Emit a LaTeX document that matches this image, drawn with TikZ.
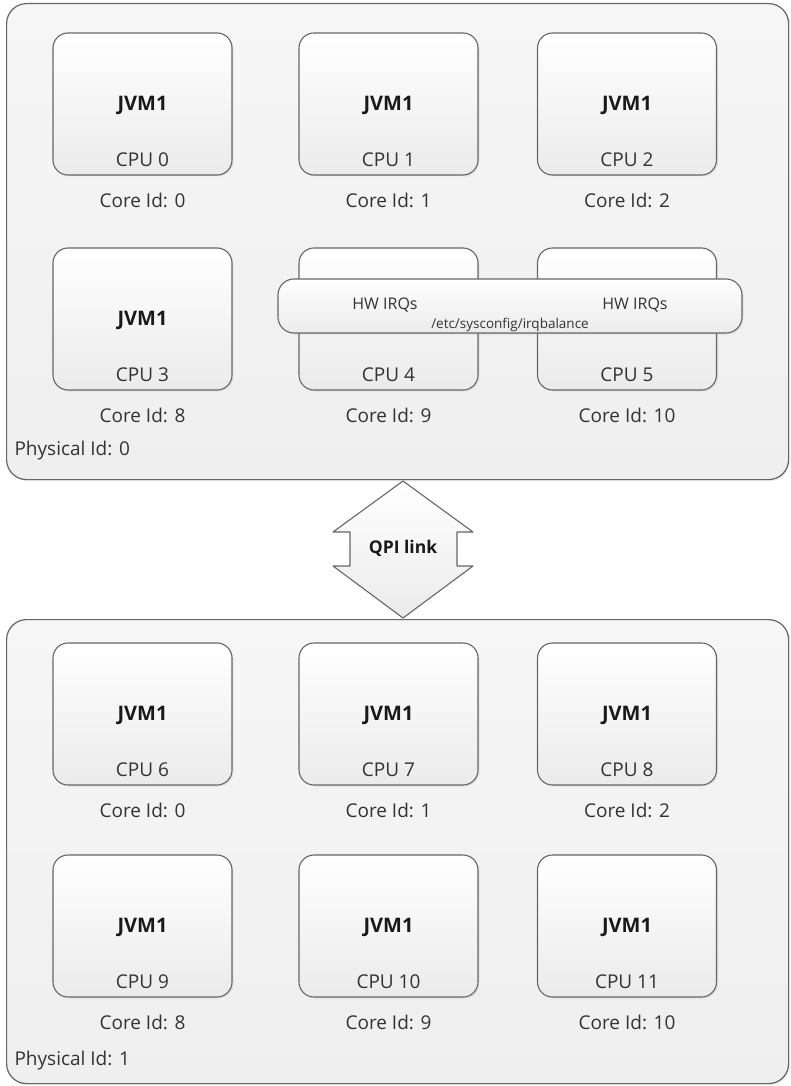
\documentclass[tikz,border=0pt]{standalone}
\usepackage{fontspec}
\setmainfont{Open Sans}
\usetikzlibrary{shadows}
\definecolor{edge}{HTML}{666666}
\definecolor{panel}{HTML}{EFEFEF}
\definecolor{paneltop}{HTML}{F6F6F6}
\definecolor{boxlow}{HTML}{EBEBEB}
\definecolor{ink}{HTML}{333333}
\tikzset{
  every picture/.style={line join=round, line cap=round},
  hostbox/.style={draw=edge, line width=1.2pt, rounded corners=20pt, anchor=north west,
    top color=paneltop, bottom color=panel, minimum width=782pt,
    drop shadow={opacity=0.15, shadow xshift=1.5pt, shadow yshift=-1.5pt}},
  cpubox/.style={draw=edge, line width=1.1pt, rounded corners=15pt,
    minimum width=179pt, minimum height=142pt, top color=white, bottom color=boxlow,
    drop shadow={opacity=0.15, shadow xshift=1.5pt, shadow yshift=-1.5pt}},
  irqbar/.style={draw=edge, line width=1.1pt, rounded corners=16pt,
    minimum width=464pt, minimum height=54pt, top color=white, bottom color=boxlow,
    drop shadow={opacity=0.15, shadow xshift=1.5pt, shadow yshift=-1.5pt}},
  jvm/.style={font=\fontsize{20}{23}\selectfont\bfseries, text=black!90},
  txt/.style={font=\fontsize{19}{22}\selectfont, text=ink},
  small/.style={font=\fontsize{16}{18}\selectfont, text=ink},
  tiny/.style={font=\fontsize{13.5}{15}\selectfont, text=ink},
}

\begin{document}
\begin{tikzpicture}[x=1pt,y=-1pt]
\useasboundingbox (0,0) rectangle (790,1086);
\fill[white] (0,0) rectangle (790,1086);
% physical packages
\node[hostbox, minimum height=476pt] (host0) at (6,3) {};
\node[hostbox, minimum height=464pt] (host1) at (6,619) {};
% socket 0
\node[cpubox] (cpu0) at (142.5,104) {};
\node[cpubox] (cpu1) at (388.5,104) {};
\node[cpubox] (cpu2) at (627,104) {};
\node[cpubox] (cpu3) at (142.5,319) {};
\node[cpubox] (cpu4) at (388.5,319) {};
\node[cpubox] (cpu5) at (627,319) {};
\node[jvm] (jvm0) at (142.5,105) {JVM1};
\node[jvm] (jvm1) at (388.5,105) {JVM1};
\node[jvm] (jvm2) at (627,105) {JVM1};
\node[jvm] (jvm3) at (142.5,320) {JVM1};
\node[txt] (lcpu0) at (142.5,160) {CPU 0};
\node[txt] (lcpu1) at (388.5,160) {CPU 1};
\node[txt] (lcpu2) at (627,160) {CPU 2};
\node[txt] (lcpu3) at (142.5,375) {CPU 3};
\node[txt] (lcpu4) at (388.5,375) {CPU 4};
\node[txt] (lcpu5) at (627,375) {CPU 5};
\node[txt] (core0) at (142.5,200) {Core Id: 0};
\node[txt] (core1) at (388.5,200) {Core Id: 1};
\node[txt] (core2) at (627,200) {Core Id: 2};
\node[txt] (core3) at (142.5,415) {Core Id: 8};
\node[txt] (core4) at (388.5,415) {Core Id: 9};
\node[txt] (core5) at (627,415) {Core Id: 10};
\node[txt, anchor=west] (phys0) at (11,451) {Physical Id: 0};
% irq band over cpu 4 and 5
\node[irqbar] (irq) at (510,306) {};
\node[small] (irq4) at (385,305) {HW IRQs};
\node[small] (irq5) at (635,305) {HW IRQs};
\node[tiny] (irqcfg) at (510,325) {/etc/sysconfig/irqbalance};
% socket 1
\node[cpubox] (cpu6) at (142.5,714) {};
\node[cpubox] (cpu7) at (388.5,714) {};
\node[cpubox] (cpu8) at (627,714) {};
\node[cpubox] (cpu9) at (142.5,926) {};
\node[cpubox] (cpu10) at (388.5,926) {};
\node[cpubox] (cpu11) at (627,926) {};
\node[jvm] (jvm6) at (142.5,715) {JVM1};
\node[jvm] (jvm7) at (388.5,715) {JVM1};
\node[jvm] (jvm8) at (627,715) {JVM1};
\node[jvm] (jvm9) at (142.5,927) {JVM1};
\node[jvm] (jvm10) at (388.5,927) {JVM1};
\node[jvm] (jvm11) at (627,927) {JVM1};
\node[txt] (lcpu6) at (142.5,770) {CPU 6};
\node[txt] (lcpu7) at (388.5,770) {CPU 7};
\node[txt] (lcpu8) at (627,770) {CPU 8};
\node[txt] (lcpu9) at (142.5,982) {CPU 9};
\node[txt] (lcpu10) at (388.5,982) {CPU 10};
\node[txt] (lcpu11) at (627,982) {CPU 11};
\node[txt] (core6) at (142.5,810) {Core Id: 0};
\node[txt] (core7) at (388.5,810) {Core Id: 1};
\node[txt] (core8) at (627,810) {Core Id: 2};
\node[txt] (core9) at (142.5,1022) {Core Id: 8};
\node[txt] (core10) at (388.5,1022) {Core Id: 9};
\node[txt] (core11) at (627,1022) {Core Id: 10};
\node[txt, anchor=west] (phys1) at (11,1061) {Physical Id: 1};
% interconnect
\draw[draw=edge, line width=1.1pt, top color=white, bottom color=boxlow]
  (403,481) -- (473,532) -- (457,532) -- (457,566) -- (473,566) -- (403,618)
  -- (333,566) -- (350,566) -- (350,532) -- (333,532) -- cycle;
\node[jvm, font=\fontsize{17.5}{20}\selectfont\bfseries] (qpi) at (403,548) {QPI link};
\end{tikzpicture}
\end{document}
